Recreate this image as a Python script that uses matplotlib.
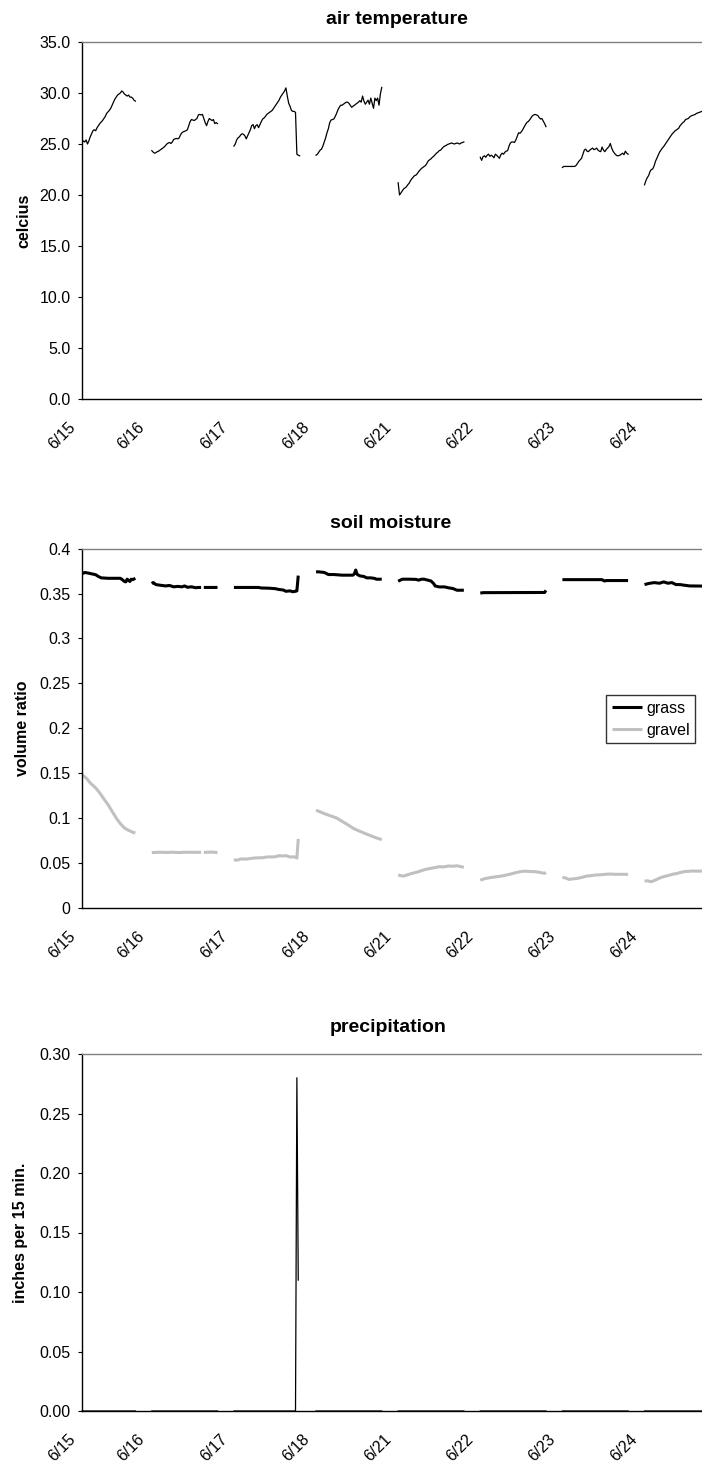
import numpy as np
import matplotlib
matplotlib.use("Agg")
import matplotlib.pyplot as plt
from matplotlib.ticker import FixedLocator, FuncFormatter, MultipleLocator
from matplotlib.transforms import ScaledTranslation

plt.rcParams.update({
    "font.family": ["Liberation Sans", "DejaVu Sans"],
    "text.color": "black",
    "axes.edgecolor": "black",
    "xtick.color": "black",
    "ytick.color": "black",
})

# ---- data (one reading per 15 min) ----
DAYS = ["6/15", "6/16", "6/17", "6/18", "6/21", "6/22", "6/23", "6/24"]
DAY_SAMPLES = [40, 49, 49, 49, 49, 49, 49, 49]
BLANK_ROWS = 11   # empty rows between two logged days

TEMP_615 = [25.1, 25.3, 25.2, 25.4, 25.0, 25.3, 25.7, 26.0, 26.3, 26.4,
            26.3, 26.6, 26.8, 27.0, 27.15, 27.3, 27.5, 27.7, 28.0, 28.15,
            28.3, 28.5, 28.8, 29.1, 29.4, 29.6, 29.8, 29.9, 30.0, 30.2,
            30.1, 29.9, 29.8, 29.7, 29.8, 29.6, 29.6, 29.5, 29.3, 29.2]
TEMP_616 = [24.35, 24.2, 24.1, 24.15, 24.25, 24.3, 24.4, 24.5, 24.6, 24.7,
            24.85, 25.0, 25.1, 25.15, 25.05, 25.2, 25.45, 25.5, 25.55, 25.5,
            25.6, 25.9, 26.1, 26.2, 26.25, 26.3, 26.4, 26.8, 27.2, 27.4,
            27.35, 27.3, 27.4, 27.5, 27.85, 27.9, 27.85, 27.9, 27.5, 27.1,
            26.8, 27.2, 27.5, 27.4, 27.3, 27.4, 27.0, 27.1, 27.0]
TEMP_617 = [24.8, 25.0, 25.4, 25.6, 25.7, 25.9, 26.0, 25.95, 25.8, 25.5,
            25.8, 26.1, 26.4, 26.8, 26.9, 26.5, 26.8, 26.9, 26.6, 26.9,
            27.2, 27.45, 27.55, 27.7, 27.9, 28.0, 28.1, 28.2, 28.3, 28.5,
            28.7, 28.9, 29.1, 29.3, 29.6, 29.8, 30.0, 30.2, 30.5, 29.7,
            29.0, 28.7, 28.3, 28.2, 28.2, 28.1, 24.0, 23.9, 23.85]
TEMP_618 = [23.9, 24.0, 24.2, 24.4, 24.5, 24.8, 25.2, 25.6, 26.1, 26.5,
            27.1, 27.35, 27.4, 27.45, 27.7, 28.0, 28.35, 28.6, 28.8, 28.8,
            28.9, 29.0, 29.1, 29.1, 29.0, 28.8, 28.6, 28.7, 28.8, 28.9,
            29.0, 29.1, 29.25, 29.1, 29.7, 29.2, 28.9, 29.1, 29.3, 28.9,
            29.5, 29.0, 28.5, 29.5, 29.25, 29.5, 28.8, 29.9, 30.55]
TEMP_621 = [21.2, 20.0, 20.2, 20.4, 20.6, 20.7, 20.8, 21.0, 21.15, 21.4,
            21.6, 21.75, 21.9, 21.95, 22.1, 22.3, 22.45, 22.6, 22.7, 22.8,
            22.9, 23.1, 23.35, 23.45, 23.55, 23.7, 23.8, 23.95, 24.1, 24.2,
            24.35, 24.4, 24.55, 24.7, 24.8, 24.85, 24.95, 25.0, 25.05, 25.1,
            25.05, 25.0, 25.05, 25.1, 25.05, 25.0, 25.1, 25.15, 25.2]
TEMP_622 = [23.7, 23.4, 23.75, 23.85, 23.7, 23.9, 24.0, 23.8, 23.9, 23.8,
            23.65, 24.0, 23.9, 23.75, 23.6, 23.95, 24.1, 24.0, 24.2, 24.3,
            24.35, 24.8, 25.1, 25.2, 25.2, 25.15, 25.4, 25.75, 26.1, 26.05,
            26.2, 26.4, 26.65, 26.9, 27.1, 27.2, 27.35, 27.55, 27.75, 27.85,
            27.9, 27.85, 27.8, 27.6, 27.45, 27.5, 27.25, 27.0, 26.7]
TEMP_623 = [22.7, 22.8, 22.8, 22.8, 22.8, 22.8, 22.8, 22.8, 22.8, 22.8,
            22.9, 23.1, 23.3, 23.45, 23.6, 24.0, 24.4, 24.5, 24.3, 24.25,
            24.4, 24.5, 24.6, 24.45, 24.5, 24.6, 24.4, 24.3, 24.25, 24.7,
            24.4, 24.25, 24.45, 24.6, 24.75, 25.05, 24.6, 24.3, 24.1, 23.95,
            23.85, 23.85, 23.9, 24.0, 24.1, 23.95, 24.3, 24.1, 24.0]
TEMP_624 = [21.0, 21.4, 21.7, 21.9, 22.3, 22.5, 22.55, 22.85, 23.3, 23.6,
            23.9, 24.2, 24.4, 24.6, 24.75, 24.95, 25.15, 25.35, 25.55, 25.75,
            25.95, 26.1, 26.25, 26.35, 26.45, 26.55, 26.8, 26.95, 27.1, 27.2,
            27.4, 27.45, 27.5, 27.65, 27.75, 27.8, 27.85, 27.9, 28.0, 28.05,
            28.1, 28.15, 28.2, 28.2]
AIR_TEMP = [TEMP_615, TEMP_616, TEMP_617, TEMP_618,
            TEMP_621, TEMP_622, TEMP_623, TEMP_624]

nan = float("nan")
GRASS_STEPS = [
    [0, 2, 4, 7, 10, 12, 14, 19, 24, 28, 29, 31, 32, 33, 35, 36, 37, 39],
    [0, 1, 3, 6, 10, 13, 16, 19, 22, 24, 26, 29, 32, 34, 36, 37, 38, 48],
    [0, 18, 20, 25, 30, 33, 36, 38, 41, 43, 45, 46, 47],
    [0, 2, 6, 8, 9, 13, 19, 27, 28, 29, 30, 31, 32, 35, 37, 40, 43, 44, 48],
    [0, 1, 3, 8, 13, 15, 17, 19, 21, 24, 26, 27, 30, 34, 37, 40, 43, 48],
    [0, 2, 47, 48],
    [0, 29, 30, 31, 32, 48],
    [0, 3, 7, 11, 14, 17, 20, 23, 26, 29, 33, 43],
]
GRASS_VALS = [
    [0.372, 0.3735, 0.373, 0.372, 0.371, 0.369, 0.3675, 0.367, 0.367, 0.367,
     0.366, 0.3635, 0.363, 0.366, 0.3635, 0.366, 0.3655, 0.367],
    [0.361, 0.3623, 0.360, 0.3593, 0.3585, 0.359, 0.3575, 0.358, 0.3575,
     0.3585, 0.357, 0.3575, 0.3565, 0.3568, 0.3568, nan, 0.3568, 0.3568],
    [0.3568, 0.3568, 0.3562, 0.356, 0.3555, 0.3545, 0.354, 0.3525, 0.353,
     0.352, 0.3525, 0.353, 0.370],
    [0.3742, 0.3742, 0.3735, 0.372, 0.3712, 0.3712, 0.3705, 0.3705, 0.372,
     0.3762, 0.3715, 0.3705, 0.3697, 0.369, 0.3675, 0.3675, 0.3668, 0.366,
     0.366],
    [0.3637, 0.3645, 0.366, 0.366, 0.3658, 0.3649, 0.366, 0.366, 0.3652,
     0.364, 0.361, 0.3585, 0.3574, 0.3574, 0.3563, 0.3556, 0.3537, 0.3537],
    [0.3505, 0.351, 0.3512, 0.3535],
    [0.3655, 0.3655, 0.3645, 0.364, 0.3645, 0.3645],
    [0.36, 0.3612, 0.3622, 0.3615, 0.363, 0.3615, 0.3622, 0.36, 0.36,
     0.3593, 0.3585, 0.3583],
]
GRAVEL_STEPS = [
    [0, 3, 6, 10, 13, 16, 19, 22, 25, 28, 31, 34, 37, 39],
    [0, 5, 10, 15, 20, 25, 30, 35, 36, 37, 38, 44, 48],
    [0, 2, 5, 9, 15, 21, 24, 30, 33, 36, 38, 41, 44, 46, 47],
    [0, 2, 6, 10, 15, 19, 23, 28, 32, 36, 41, 44, 48],
    [0, 2, 4, 7, 10, 14, 17, 20, 24, 27, 30, 33, 37, 40, 43, 46, 48],
    [0, 3, 6, 9, 13, 16, 19, 22, 25, 29, 32, 35, 38, 41, 44, 47, 48],
    [0, 2, 5, 8, 11, 14, 18, 21, 24, 28, 31, 35, 38, 41, 45, 48],
    [0, 2, 5, 7, 9, 12, 14, 17, 19, 21, 24, 26, 29, 32, 35, 38, 43],
]
GRAVEL_VALS = [
    [0.148, 0.1444, 0.1389, 0.1333, 0.1277, 0.121, 0.1147, 0.1073, 0.0998,
     0.0935, 0.0887, 0.0861, 0.0839, 0.0831],
    [0.0612, 0.0616, 0.0614, 0.0616, 0.0613, 0.0616, 0.0616, 0.0615, 0.0614,
     nan, 0.0614, 0.0618, 0.0612],
    [0.0534, 0.0526, 0.0541, 0.054, 0.0552, 0.0555, 0.0563, 0.0565, 0.0578,
     0.0575, 0.0578, 0.0563, 0.0565, 0.0552, 0.0764],
    [0.1084, 0.1073, 0.1047, 0.1025, 0.0998, 0.0961, 0.0924, 0.0876, 0.085,
     0.0824, 0.0794, 0.0776, 0.0757],
    [0.0362, 0.0355, 0.0351, 0.0365, 0.038, 0.0395, 0.041, 0.0425, 0.0437,
     0.0445, 0.0455, 0.0452, 0.0463, 0.046, 0.0465, 0.0455, 0.0448],
    [0.0305, 0.032, 0.033, 0.0337, 0.0345, 0.0352, 0.0362, 0.0372, 0.0385,
     0.0399, 0.0405, 0.0402, 0.04, 0.0398, 0.039, 0.0381, 0.039],
    [0.0336, 0.033, 0.0313, 0.032, 0.0325, 0.0335, 0.0351, 0.0355, 0.0362,
     0.0365, 0.037, 0.0373, 0.037, 0.037, 0.0371, 0.037],
    [0.0295, 0.0298, 0.0287, 0.03, 0.0313, 0.0335, 0.0343, 0.0355, 0.0362,
     0.0372, 0.038, 0.039, 0.04, 0.0403, 0.0407, 0.0405, 0.0407],
]
PRECIP_STEPS = [[0, 39], [0, 48], [0, 45, 46, 47], [0, 48],
                [0, 48], [0, 48], [0, 48], [0, 48]]
PRECIP_VALS = [[0, 0], [0, 0], [0, 0, 0.28, 0.11], [0, 0],
               [0, 0], [0, 0], [0, 0], [0, 0]]

W, H = 702, 1465
LEFT = 82
XMAX = 453
FS_TICK = 11.5
FS_LABEL = 11.5
FS_TITLE = 14


def day_starts():
    starts, pos = [], 0
    for n in DAY_SAMPLES:
        starts.append(pos)
        pos += n + BLANK_ROWS
    return starts


STARTS = day_starts()


def join_days(steps, vals):
    xs, ys = [], []
    for s0, st, vl in zip(STARTS, steps, vals):
        xs += [s0 + s for s in st] + [nan]
        ys += list(vl) + [nan]
    return np.array(xs), np.array(ys)


def make_ax(fig, top, bottom):
    return fig.add_axes([LEFT / W, 1 - bottom / H, (W - LEFT) / W,
                         (bottom - top) / H])


def style(ax, ymax, ystep, fmt):
    ax.set_xlim(0, XMAX)
    ax.set_ylim(0, ymax)
    ax.yaxis.set_major_locator(MultipleLocator(ystep))
    ax.yaxis.set_major_formatter(FuncFormatter(fmt))
    ax.xaxis.set_major_locator(FixedLocator(STARTS))
    ax.set_xticklabels(DAYS)
    ax.tick_params(axis="y", direction="out", length=3.2, width=0.8,
                   pad=5, labelsize=FS_TICK)
    ax.tick_params(axis="x", length=0, pad=15, labelsize=FS_TICK)
    off = ScaledTranslation(-4 / 100, 0, ax.figure.dpi_scale_trans)
    for lab in ax.get_xticklabels():
        lab.set_rotation(45)
        lab.set_ha("right")
        lab.set_va("top")
        lab.set_transform(lab.get_transform() + off)
    for s in ("left", "bottom"):
        ax.spines[s].set_linewidth(1.0)
        ax.spines[s].set_color("black")
    ax.spines["top"].set_color("#808080")
    ax.spines["top"].set_linewidth(1.0)
    ax.spines["right"].set_visible(False)
    ax.patch.set_visible(False)


def title(fig, txt, xc, yc):
    fig.text(xc / W, 1 - yc / H, txt, ha="center", va="center",
             fontsize=FS_TITLE, fontweight="bold")


def ylabel(fig, txt, xc, top, bottom):
    fig.text(xc / W, 1 - (top + bottom) / 2 / H, txt, ha="center",
             va="center", rotation=90, fontsize=FS_LABEL, fontweight="bold")


fig = plt.figure(figsize=(W / 100, H / 100), dpi=100)

# ---------------- air temperature ----------------
ax1 = make_ax(fig, 42, 399)
x, y = join_days([list(range(len(v))) for v in AIR_TEMP], AIR_TEMP)
ax1.plot(x, y, color="black", lw=0.9)
style(ax1, 35, 5, lambda v, p: f"{v:.1f}")
title(fig, "air temperature", 397, 19)
ylabel(fig, "celcius", 24, 42, 399)

# ---------------- soil moisture ----------------
ax2 = make_ax(fig, 548.7, 907.5)
xg, yg = join_days(GRASS_STEPS, GRASS_VALS)
xv, yv = join_days(GRAVEL_STEPS, GRAVEL_VALS)
ax2.plot(xg, yg, color="black", lw=2.2, label="grass", solid_capstyle="butt")
ax2.plot(xv, yv, color="#C0C0C0", lw=2.2, label="gravel",
         solid_capstyle="butt")
style(ax2, 0.4, 0.05, lambda v, p: f"{v:.2f}".rstrip("0").rstrip(".")
      if v else "0")
title(fig, "soil moisture", 390.5, 524)
ylabel(fig, "volume ratio", 23, 548.7, 907.5)
leg = ax2.legend(loc="upper left", bbox_to_anchor=(606 / W, 1 - 695 / H),
                 bbox_transform=fig.transFigure, borderaxespad=0,
                 fontsize=FS_TICK, frameon=True, fancybox=False,
                 handlelength=1.9, handletextpad=0.25, borderpad=0.35,
                 labelspacing=0.45)
leg.get_frame().set_edgecolor("black")
leg.get_frame().set_linewidth(1.0)

# ---------------- precipitation ----------------
ax3 = make_ax(fig, 1054, 1411)
xp, yp = join_days(PRECIP_STEPS, PRECIP_VALS)
ax3.plot(xp, yp, color="black", lw=0.9, clip_on=False)
style(ax3, 0.30, 0.05, lambda v, p: f"{v:.2f}")
title(fig, "precipitation", 388, 1028)
ylabel(fig, "inches per 15 min.", 21, 1054, 1411)

fig.savefig("out.png", dpi=100)
